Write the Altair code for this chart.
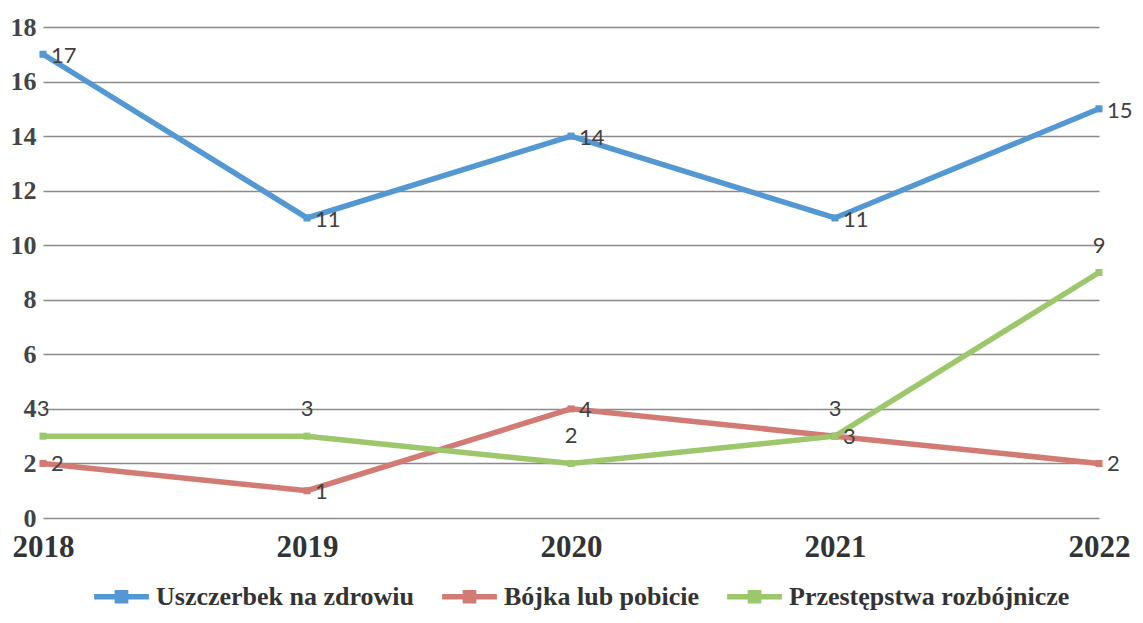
import altair as alt
import pandas as pd

years = [2018, 2019, 2020, 2021, 2022]
series_names = ["Uszczerbek na zdrowiu", "Bójka lub pobicie", "Przestępstwa rozbójnicze"]
uszczerbek = [17, 11, 14, 11, 15]
bojka = [2, 1, 4, 3, 2]
przestepstwa = [3, 3, 2, 3, 9]
colors = ["#5398d2", "#d27a74", "#9cc76b"]

rows = []
for name, vals in zip(series_names, [uszczerbek, bojka, przestepstwa]):
    for y, v in zip(years, vals):
        rows.append({"year": y, "value": v, "series": name})
df = pd.DataFrame(rows)

color_scale = alt.Scale(domain=series_names, range=colors)
x_enc = alt.X("year:Q", scale=alt.Scale(domain=[2018, 2022], nice=False, zero=False),
              axis=alt.Axis(values=years, format="d", title=None, grid=False, domain=False, ticks=False,
                            labelFont="Liberation Serif", labelFontWeight="bold", labelFontSize=31,
                            labelColor="#333333", labelPadding=14, labelFlush=False))
y_enc = alt.Y("value:Q", scale=alt.Scale(domain=[0, 18], nice=False),
              axis=alt.Axis(values=list(range(0, 19, 2)), title=None, domain=False, ticks=False,
                            gridColor="#8a8a8a", gridWidth=1.6,
                            labelFont="Liberation Serif", labelFontWeight="bold", labelFontSize=26,
                            labelColor="#444444", labelPadding=7))

base = alt.Chart(df)

lines = base.mark_line(strokeWidth=5.5).encode(
    x=x_enc, y=y_enc,
    color=alt.Color("series:N", scale=color_scale, legend=None),
    detail="series:N",
)

legend_symbol = "M-1,-0.1 L1,-0.1 L1,0.1 L-1,0.1 Z M-0.25,-0.25 L0.25,-0.25 L0.25,0.25 L-0.25,0.25 Z"
points = base.mark_point(shape="square", filled=True, size=50, opacity=1).encode(
    x=x_enc, y=y_enc,
    color=alt.Color("series:N", scale=color_scale,
                    legend=alt.Legend(title=None, orient="none", direction="horizontal",
                                      legendX=50, legendY=541,
                                      symbolType=legend_symbol, symbolSize=3000,
                                      labelFont="Liberation Serif", labelFontWeight="bold",
                                      labelFontSize=26, labelColor="#333333", labelLimit=0,
                                      labelOffset=6, columnPadding=26, symbolOpacity=1)),
)

text_style = dict(font="Lato", fontSize=22, color="#404040")

lbl_blue = base.transform_filter(alt.datum.series == series_names[0]).mark_text(
    align="left", baseline="middle", dx=8, dy=2, **text_style
).encode(x=x_enc, y=y_enc, text="value:Q")

lbl_red = base.transform_filter(alt.datum.series == series_names[1]).mark_text(
    align="left", baseline="middle", dx=8, dy=1, **text_style
).encode(x=x_enc, y=y_enc, text="value:Q")

lbl_green = base.transform_filter(alt.datum.series == series_names[2]).mark_text(
    align="center", baseline="middle", dx=0, dy=-27, **text_style
).encode(x=x_enc, y=y_enc, text="value:Q")

chart = alt.layer(lines, points, lbl_blue, lbl_red, lbl_green).resolve_scale(
    color="independent"
).properties(
    width=1056, height=491,
    autosize=alt.AutoSizeParams(type="none"),
    padding={"left": 35, "top": 19, "right": 36, "bottom": 97},
    background="white",
).configure_view(stroke=None)

chart.save("out.html", embed_options={"renderer": "svg", "actions": False})
